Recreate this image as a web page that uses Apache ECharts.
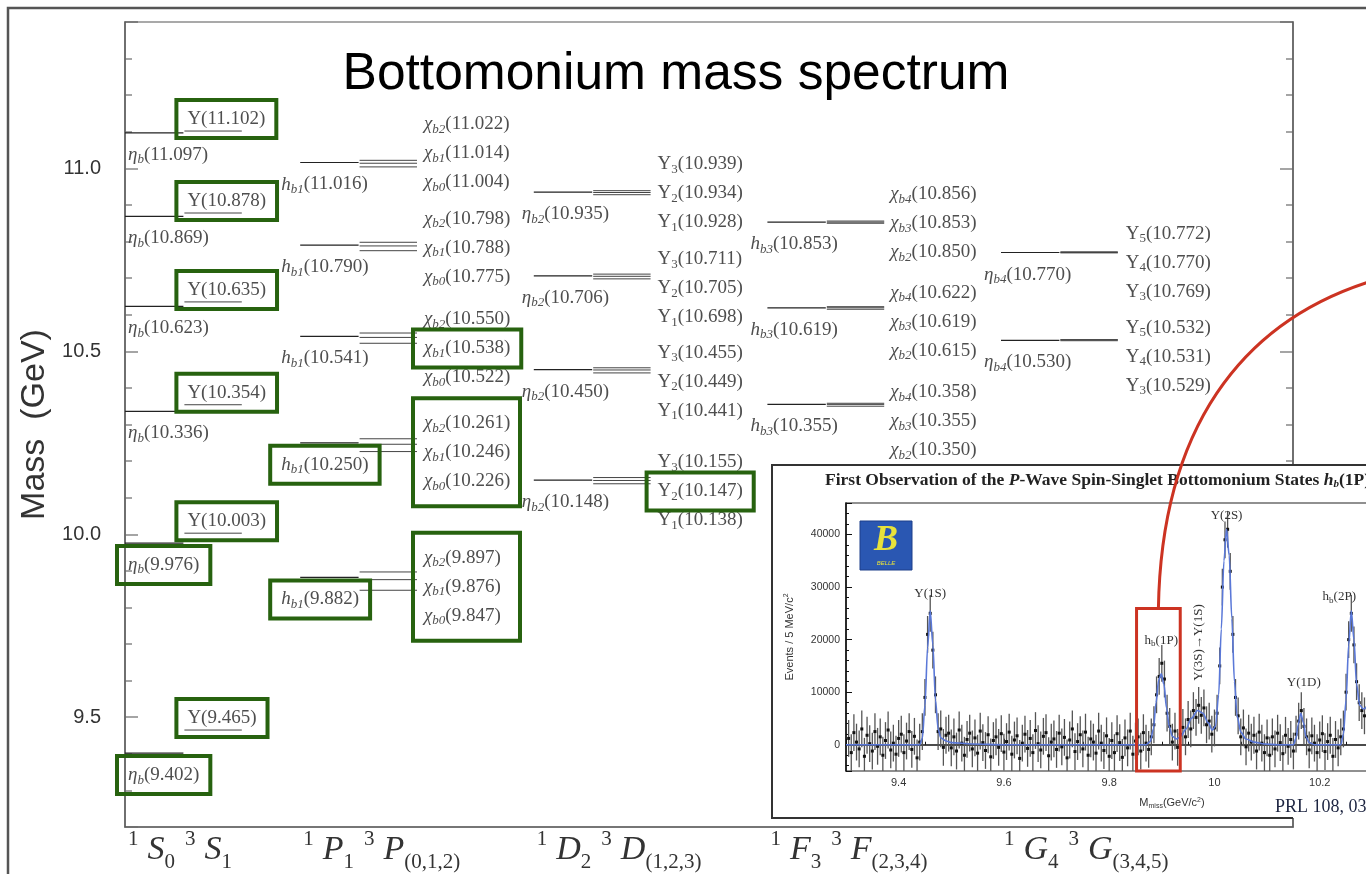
<!DOCTYPE html>
<html><head><meta charset="utf-8">
<script src="https://cdn.jsdelivr.net/npm/echarts@6/dist/echarts.min.js"></script>
<style>html,body{margin:0;padding:0;background:#fff}#c{width:1366px;height:874px}</style>
</head><body><div id="c"></div>
<script>
// ================= DATA =================
// Main spectrum: masses in GeV, radial excitations from top (highest) to bottom
const waveNames = ['S', 'P', 'D', 'F', 'G'];
const waveTickLabels = [
  ['1', 'S', '0', '3', 'S', '1'],
  ['1', 'P', '1', '3', 'P', '(0,1,2)'],
  ['1', 'D', '2', '3', 'D', '(1,2,3)'],
  ['1', 'F', '3', '3', 'F', '(2,3,4)'],
  ['1', 'G', '4', '3', 'G', '(3,4,5)']
];
const singletSymbol = [['η', 'b'], ['h', 'b1'], ['η', 'b2'], ['h', 'b3'], ['η', 'b4']];
const tripletSymbol = [
  [['Υ', '']],
  [['χ', 'b0'], ['χ', 'b1'], ['χ', 'b2']],
  [['Υ', '1'], ['Υ', '2'], ['Υ', '3']],
  [['χ', 'b2'], ['χ', 'b3'], ['χ', 'b4']],
  [['Υ', '3'], ['Υ', '4'], ['Υ', '5']]
];
const sSinglet = [11.097, 10.869, 10.623, 10.336, 9.976, 9.402];
const sTriplet = [11.102, 10.878, 10.635, 10.354, 10.003, 9.465];
const pSinglet = [11.016, 10.790, 10.541, 10.250, 9.882];
const pTriplet = [[11.004, 11.014, 11.022], [10.775, 10.788, 10.798], [10.522, 10.538, 10.550], [10.226, 10.246, 10.261], [9.847, 9.876, 9.897]];
const dSinglet = [10.935, 10.706, 10.450, 10.148];
const dTriplet = [[10.928, 10.934, 10.939], [10.698, 10.705, 10.711], [10.441, 10.449, 10.455], [10.138, 10.147, 10.155]];
const fSinglet = [10.853, 10.619, 10.355];
const fTriplet = [[10.850, 10.853, 10.856], [10.615, 10.619, 10.622], [10.350, 10.355, 10.358]];
const gSinglet = [10.770, 10.530];
const gTriplet = [[10.769, 10.770, 10.772], [10.529, 10.531, 10.532]];
// states highlighted with green boxes
const boxedSinglet = ['S:9.976', 'S:9.402', 'P:10.250', 'P:9.882'];
const boxedTriplet = ['S:11.102', 'S:10.878', 'S:10.635', 'S:10.354', 'S:10.003', 'S:9.465',
  'P:10.538', 'P:10.226', 'P:10.246', 'P:10.261', 'P:9.847', 'P:9.876', 'P:9.897', 'D:10.147'];
const massMin = 9.2, massMax = 11.4;

// Inset (Belle, missing-mass spectrum), 5 MeV bins starting at 9.305 GeV
const insetStart = 9.305, insetStep = 0.005;
const insetCounts = [
  // 9.305 - 9.400
  1200, -1500, 2300, 500, -800, 3000, -2200, 1800, 200, -1200, 2500, -300, 1500, -2000, 800, 2800, -1000, 300, -1800, 1200,
  // 9.405 - 9.500
  2000, -1500, 700, 2500, -900, 1600, -2500, 500, 2500, 9000, 21000, 25000, 18000, 9500, 2500, 3000, -500, 1800, 2200, -600,
  // 9.505 - 9.600
  1500, -1200, 2800, 300, -2000, 1000, 2200, -800, 1300, -1600, 2600, 400, -1100, 1900, -2300, 800, 1500, -500, 2100, -1400,
  // 9.605 - 9.700
  600, 2400, -1800, 900, 1700, -2600, 300, 2000, -700, 1200, -1500, 2700, 200, -1000, 1600, 2300, -2100, 500, 1100, -900,
  // 9.705 - 9.800
  2200, -400, 1400, -2500, 900, 3000, -1300, 600, 1900, -800, 2400, -2000, 1100, 500, -1600, 2600, 300, -1100, 1700, -2200,
  // 9.805 - 9.900
  800, -1500, 2100, 400, -2400, 1300, -600, 2600, -1800, 700, 1500, -1200, 2300, 300, -900, 1500, 3800, 9500, 13000, 15500,
  // 9.905 - 10.000
  12500, 6000, 3500, 500, 2600, -500, 2000, 3300, 1500, 4800, 3000, 6500, 5200, 7500, 5600, 7000, 3800, 4500, 2000, 3200,
  // 10.005 - 10.100
  6000, 15000, 30000, 39000, 41000, 33000, 21000, 9000, 5500, 1500, 3200, -400, 2200, 500, 1800, -1200, 2400, 300, -1500, 1300,
  // 10.105 - 10.200
  -2000, 1500, -800, 2200, 400, -1700, 1800, -300, 1000, -1200, 2000, 4500, 6500, 3500, 1500, -1000, 1700, 300, -1500, 900,
  // 10.205 - 10.290
  2100, -1300, 600, 1800, -2200, 1000, -600, 1500, 3000, 10000, 20000, 25000, 19000, 12000, 8000, 6500, 5500, 7000
];
const insetError = 3500;
const insetFit = [[9.300, 0], [9.440, 0], [9.445, 1200], [9.450, 7500], [9.455, 18500], [9.460, 25500], [9.465, 19000], [9.470, 8500],
  [9.475, 3000], [9.480, 1300], [9.490, 700], [9.500, 400], [9.540, 150], [9.600, 0], [9.870, 0], [9.878, 600], [9.884, 3000],
  [9.889, 8000], [9.894, 12300], [9.899, 13500], [9.904, 11500], [9.909, 7000], [9.914, 3500], [9.920, 1600], [9.928, 1100],
  [9.936, 1600], [9.946, 3000], [9.956, 5000], [9.968, 6500], [9.978, 6000], [9.988, 4200], [9.996, 2800], [10.002, 3500],
  [10.008, 9500], [10.013, 22000], [10.018, 35000], [10.023, 41000], [10.028, 36000], [10.033, 24000], [10.038, 12000],
  [10.043, 5500], [10.050, 2400], [10.060, 1100], [10.075, 500], [10.095, 150], [10.120, 0], [10.150, 0], [10.155, 1200],
  [10.159, 3800], [10.164, 6000], [10.169, 4200], [10.174, 1500], [10.180, 400], [10.190, 0], [10.240, 0], [10.245, 2000],
  [10.250, 8500], [10.255, 19000], [10.260, 25500], [10.265, 20000], [10.270, 11500], [10.276, 7500], [10.283, 6800],
  [10.295, 7500], [10.310, 9000]];
const insetPeakLabels = [
  { text: 'Υ(1S)', m: 9.460, v: 25500 },
  { text: 'h_b(1P)', m: 9.899, v: 15500 },
  { text: 'Υ(3S)→Υ(1S)', m: 9.970, v: 6500, vertical: true },
  { text: 'Υ(2S)', m: 10.023, v: 41000 },
  { text: 'Υ(1D)', m: 10.164, v: 6500 },
  { text: 'h_b(2P)', m: 10.260, v: 25500 }
];
const insetCuts = [9.8, 10.1];
const insetBox = [[9.852, -5000], [9.935, 25900]];
const insetXRange = [9.3, 10.4], insetYRange = [-5000, 46000];

// ================= LAYOUT / STYLE =================
const waveStart = [0, 3, 7, 11, 15];
const halfLen = 1;
const singletDx = [3, -19, -12, -17, -17];
const tripletDx = [4, 7, 7, 6, 8];
const stackNudge = [[], [-10, 2, 11, 8, 7], [1, 12, 12, 11], [1, 14, 17], [10, 17]];
const insetLabelOffset = [[0, -17], [0, -23], [0, -68], [0, -14], [3, -28], [-12, -14]];
const GREEN = '#27620f', RED = '#cc3322', LABEL = '#4e4e4e';
const SERIF = '"Liberation Serif","DejaVu Serif",serif';
const SANS = '"Liberation Sans","DejaVu Sans",sans-serif';

const singlets = [sSinglet, pSinglet, dSinglet, fSinglet, gSinglet];
const triplets = [sTriplet.map(m => [m]), pTriplet, dTriplet, fTriplet, gTriplet];
const items = [];
singlets.forEach((arr, w) => arr.forEach((m, n) => items.push({ w, n, s: m, t: triplets[w][n] })));
const isBoxed = (list, w, m) => list.includes(waveNames[w] + ':' + m.toFixed(3)) ||
  list.includes(waveNames[w] + ':' + String(Number(m.toFixed(3))));

const labelRich = {
  m: { fontFamily: SERIF, fontSize: 19, lineHeight: 22, fill: LABEL },
  mi: { fontFamily: SERIF, fontSize: 19, lineHeight: 22, fontStyle: 'italic', fill: LABEL },
  si: { fontFamily: SERIF, fontSize: 13, lineHeight: 13, fontStyle: 'italic', fill: LABEL, padding: [10, 0, 0, 0] },
  s: { fontFamily: SERIF, fontSize: 13, lineHeight: 13, fill: LABEL, padding: [10, 0, 0, 0] }
};
function stateText(sym, sub, mass) {
  let t = sym === 'Υ' ? '{m|' + sym + '}' : '{mi|' + sym + '}';
  if (sub) t += /^\d+$/.test(sub) ? '{s|' + sub + '}' : '{si|' + sub + '}';
  return t + '{m|(' + mass.toFixed(3) + ')}';
}
function labelEl(x, y, text, boxed) {
  const style = { text, rich: labelRich, fontFamily: SERIF, fontSize: 19, fill: LABEL, align: 'left', verticalAlign: 'middle' };
  if (boxed) { Object.assign(style, { padding: [8, 11, 8, 11], borderColor: GREEN, borderWidth: 4 }); x -= 11; }
  return { type: 'text', x, y, style, z2: boxed ? 10 : 5 };
}
function renderLevel(params, api) {
  const it = items[params.dataIndex];
  const w = it.w, x0 = waveStart[w], x1 = x0 + halfLen, x2 = x0 + 2 * halfLen;
  const ch = [];
  const a = api.coord([x0, it.s]), b = api.coord([x1, it.s]);
  ch.push({ type: 'line', shape: { x1: a[0], y1: a[1], x2: b[0], y2: b[1] }, style: { stroke: '#222', lineWidth: 1.2 }, z2: 1 });
  it.t.forEach(m => {
    const c = api.coord([x1, m]), d = api.coord([x2, m]);
    ch.push({ type: 'line', shape: { x1: c[0] + 1, y1: c[1], x2: d[0], y2: d[1] }, style: { stroke: '#444', lineWidth: 1 }, z2: 1 });
  });
  const ss = singletSymbol[w];
  ch.push(labelEl(a[0] + singletDx[w], a[1] + 22, stateText(ss[0], ss[1], it.s), isBoxed(boxedSinglet, w, it.s)));
  if (w === 0) {
    const m = it.t[0], c = api.coord([x1, m]);
    ch.push(labelEl(c[0] + tripletDx[0], c[1] - 12, stateText('Υ', '', m), isBoxed(boxedTriplet, 0, m)));
  } else {
    const lx = api.coord([x2, it.t[1]])[0] + tripletDx[w];
    const mid = api.coord([x1, it.t[1]])[1] + stackNudge[w][it.n];
    const allBoxed = it.t.every(m => isBoxed(boxedTriplet, w, m));
    for (let j = 2; j >= 0; j--) {
      const y = mid + (1 - j) * 29;
      const sym = tripletSymbol[w][j];
      ch.push(labelEl(lx, y, stateText(sym[0], sym[1], it.t[j]), !allBoxed && isBoxed(boxedTriplet, w, it.t[j])));
    }
    if (allBoxed) ch.push({ type: 'rect', shape: { x: lx - 11, y: mid - 54, width: 107, height: 108 }, style: { fill: null, stroke: GREEN, lineWidth: 4 }, z2: 10 });
  }
  return { type: 'group', children: ch };
}

const waveRich = {
  sup: { fontFamily: SERIF, fontSize: 21, lineHeight: 21, padding: [0, 9, 22, 0], fill: '#333' },
  L: { fontFamily: SERIF, fontSize: 34, lineHeight: 36, fontStyle: 'italic', fill: '#333' },
  sub: { fontFamily: SERIF, fontSize: 21, lineHeight: 21, padding: [24, 10, 0, 0], fill: '#333' }
};
function renderWave(params, api) {
  const i = params.dataIndex;
  const p = api.coord([waveStart[i], massMin]);
  const t = waveTickLabels[i];
  const text = '{sup|' + t[0] + '}{L|' + t[1] + '}{sub|' + t[2] + '}{sup|' + t[3] + '}{L|' + t[4] + '}{sub|' + t[5] + '}';
  return { type: 'text', x: p[0] + 3, y: p[1] + 23, style: { text, rich: waveRich, fontFamily: SERIF, fontSize: 34, fill: '#333', align: 'left', verticalAlign: 'middle' } };
}

function renderBin(params, api) {
  const m = api.value(0), v = api.value(1);
  const lo = api.coord([m, v - insetError]), hi = api.coord([m, v + insetError]), c = api.coord([m, v]);
  return { type: 'group', children: [
    { type: 'line', shape: { x1: lo[0], y1: lo[1], x2: hi[0], y2: hi[1] }, style: { stroke: '#555', lineWidth: 1.3 } },
    { type: 'rect', shape: { x: c[0] - 1.5, y: c[1] - 1.5, width: 3, height: 3 }, style: { fill: '#111' } }
  ] };
}
function renderBox(params, api) {
  const a = api.coord(insetBox[0]), b = api.coord(insetBox[1]);
  return { type: 'rect', shape: { x: a[0], y: b[1], width: b[0] - a[0], height: a[1] - b[1] }, style: { fill: null, stroke: RED, lineWidth: 3 } };
}
const peakRich = {
  n: { fontFamily: SERIF, fontSize: 13, fill: '#333', lineHeight: 15 },
  s: { fontFamily: SERIF, fontSize: 9, fill: '#333', lineHeight: 9, padding: [7, 0, 0, 0] }
};
function peakText(t) {
  const m = t.match(/^h_b(.*)$/);
  return m ? '{n|h}{s|b}{n|' + m[1] + '}' : '{n|' + t + '}';
}
function renderPeakLabel(params, api) {
  const i = params.dataIndex, pk = insetPeakLabels[i];
  const p = api.coord([pk.m, pk.v]);
  const off = insetLabelOffset[i];
  return { type: 'text', x: p[0] + off[0], y: p[1] + off[1], rotation: pk.vertical ? Math.PI / 2 : 0,
    style: { text: peakText(pk.text), rich: peakRich, fontFamily: SERIF, fontSize: 13, fill: '#333', align: 'center', verticalAlign: 'middle' } };
}

const chart = echarts.init(document.getElementById('c'), null, { renderer: 'canvas' });

const tickStyle = { color: '#888', width: 1.5 };
const option = {
  animation: false,
  backgroundColor: '#fff',
  grid: [
    { left: 125, right: 73, top: 22, bottom: 47, show: true, borderColor: '#555', borderWidth: 1.2, z: 2, outerBoundsMode: 'none', containLabel: false },
    { left: 846, width: 579, top: 503, height: 268, show: true, borderColor: '#222', borderWidth: 1.2, backgroundColor: '#fff', z: 6, outerBoundsMode: 'none', containLabel: false }
  ],
  xAxis: [
    { gridIndex: 0, type: 'value', min: 0, max: 20, axisLine: { show: true, lineStyle: { color: '#777', width: 1.5 } },
      axisTick: { show: false }, axisLabel: { show: false }, splitLine: { show: false } },
    { gridIndex: 1, type: 'value', min: insetXRange[0], max: insetXRange[1], z: 7,
      axisLine: { show: true, lineStyle: { color: '#111', width: 1.5 } },
      axisTick: { show: true, inside: true, length: 6, lineStyle: { color: '#111' } },
      minorTick: { show: true, splitNumber: 4, length: 3, lineStyle: { color: '#111' } },
      axisLabel: { fontSize: 11, color: '#333', fontFamily: SANS, margin: 6, showMinLabel: false, showMaxLabel: false,
        formatter: v => String(Number(v.toFixed(2))) },
      splitLine: { show: false } }
  ],
  yAxis: [
    { gridIndex: 0, type: 'value', position: 'left', min: massMin, max: massMax,
      name: 'Mass  (GeV)', nameLocation: 'middle', nameGap: 70,
      nameTextStyle: { fontSize: 34, color: '#333', fontFamily: SANS },
      axisLine: { show: true, lineStyle: { color: '#999', width: 2 } },
      axisTick: { show: true, inside: true, length: 13, lineStyle: tickStyle },
      minorTick: { show: true, splitNumber: 5, length: 7, lineStyle: tickStyle },
      axisLabel: { fontSize: 20, color: '#333', fontFamily: SANS, margin: 24, showMinLabel: false, showMaxLabel: false,
        formatter: v => (Math.abs(v * 2 - Math.round(v * 2)) < 1e-6 ? v.toFixed(1) : '') },
      splitLine: { show: false } },
    { gridIndex: 0, type: 'value', position: 'right', min: massMin, max: massMax,
      axisLine: { show: true, lineStyle: { color: '#999', width: 2 } },
      axisTick: { show: true, inside: true, length: 13, lineStyle: tickStyle },
      minorTick: { show: true, splitNumber: 5, length: 7, lineStyle: tickStyle },
      axisLabel: { show: false }, splitLine: { show: false } },
    { gridIndex: 1, type: 'value', min: insetYRange[0], max: insetYRange[1], splitNumber: 5, z: 7,
      name: 'Events / 5 MeV/c{sup|2}', nameLocation: 'middle', nameGap: 50,
      nameTextStyle: { fontSize: 11, color: '#333', fontFamily: SANS, rich: { sup: { fontSize: 7, color: '#333', fontFamily: SANS, padding: [0, 0, 6, 0] } } },
      axisLine: { show: true, lineStyle: { color: '#111', width: 1.5 } },
      axisTick: { show: true, inside: true, length: 6, lineStyle: { color: '#111' } },
      minorTick: { show: true, splitNumber: 5, length: 3, lineStyle: { color: '#111' } },
      axisLabel: { fontSize: 10.5, color: '#333', fontFamily: SANS, margin: 6, showMinLabel: false, showMaxLabel: false,
        formatter: v => String(Math.round(v)) },
      splitLine: { show: false } }
  ],
  series: [
    { type: 'custom', xAxisIndex: 0, yAxisIndex: 0, clip: false, z: 3, silent: true,
      renderItem: renderLevel, data: items.map(it => [waveStart[it.w], it.s]) },
    { type: 'custom', xAxisIndex: 0, yAxisIndex: 0, clip: false, z: 3, silent: true,
      renderItem: renderWave, data: waveStart.map(x => [x, massMin]) },
    { type: 'custom', xAxisIndex: 1, yAxisIndex: 2, clip: true, z: 8, silent: true,
      renderItem: renderBin, data: insetCounts.map((v, i) => [insetStart + i * insetStep, v]) },
    { type: 'line', xAxisIndex: 1, yAxisIndex: 2, z: 9, silent: true, data: insetFit, smooth: 0.3, smoothMonotone: 'x',
      showSymbol: false, lineStyle: { color: '#5a78d8', width: 1.6 },
      markLine: { symbol: 'none', silent: true, label: { show: false }, lineStyle: { color: '#e23a3a', type: 'dotted', width: 1.6 },
        data: insetCuts.map(x => ({ xAxis: x })) } },
    { type: 'custom', xAxisIndex: 1, yAxisIndex: 2, clip: false, z: 10, silent: true,
      renderItem: renderBox, data: [insetBox[1]] },
    { type: 'custom', xAxisIndex: 1, yAxisIndex: 2, clip: false, z: 9, silent: true,
      renderItem: renderPeakLabel, data: insetPeakLabels.map(p => [p.m, p.v]) }
  ],
  graphic: [
    { id: 'frame', type: 'rect', shape: { x: 8, y: 8, width: 1400, height: 900 }, style: { fill: null, stroke: '#555', lineWidth: 2.5 }, z: 1 },
    { id: 'title', type: 'text', x: 676, y: 75, style: { text: 'Bottomonium mass spectrum', fontFamily: SANS, fontSize: 51.5, fill: '#000', align: 'center', verticalAlign: 'middle' }, z: 10 },
    { id: 'insetBg', type: 'rect', shape: { x: 772, y: 465, width: 700, height: 353 }, style: { fill: '#fff' }, z: 5 },
    { id: 'insetBorder', type: 'polyline', shape: { points: [[1293, 818], [772, 818], [772, 465], [1400, 465]] }, style: { stroke: '#333', lineWidth: 2, fill: null }, z: 6 },
    { id: 'insetTitle', type: 'text', x: 825, y: 480, z: 9, style: {
      text: '{t|First Observation of the }{ti|P}{t|-Wave Spin-Singlet Bottomonium States }{ti|h}{ts|b}{t|(1P) and }{ti|h}{ts|b}{t|(2P)}',
      rich: { t: { fontFamily: SERIF, fontSize: 17.5, fontWeight: 'bold', fill: '#222', lineHeight: 20 },
        ti: { fontFamily: SERIF, fontSize: 17.5, fontWeight: 'bold', fontStyle: 'italic', fill: '#222', lineHeight: 20 },
        ts: { fontFamily: SERIF, fontSize: 11, fontWeight: 'bold', fontStyle: 'italic', fill: '#222', lineHeight: 11, padding: [9, 0, 0, 0] } },
      fontFamily: SERIF, fontSize: 17.5, fill: '#222', align: 'left', verticalAlign: 'middle' } },
    { id: 'logoBg', type: 'rect', shape: { x: 860, y: 521, width: 52, height: 49 }, style: { fill: '#2a57b2', stroke: '#1c3f8a', lineWidth: 1 }, z: 9 },
    { id: 'logoB', type: 'text', x: 886, y: 541, z: 10, style: { text: 'B', fontFamily: SERIF, fontSize: 36, fontStyle: 'italic', fontWeight: 'bold', fill: '#e8e23a', align: 'center', verticalAlign: 'middle' } },
    { id: 'logoT', type: 'text', x: 886, y: 563, z: 10, style: { text: 'BELLE', fontFamily: SANS, fontSize: 6, fontStyle: 'italic', fill: '#e8e23a', align: 'center', verticalAlign: 'middle' } },
    { id: 'insetXName', type: 'text', x: 1172, y: 803, z: 9, style: {
      text: '{n|M}{s|miss}{n|(GeV/c}{p|2}{n|)}',
      rich: { n: { fontFamily: SANS, fontSize: 11, fill: '#333', lineHeight: 13 },
        s: { fontFamily: SANS, fontSize: 7, fill: '#333', lineHeight: 7, padding: [6, 0, 0, 0] },
        p: { fontFamily: SANS, fontSize: 7, fill: '#333', lineHeight: 7, padding: [0, 0, 6, 0] } },
      fontFamily: SANS, fontSize: 11, fill: '#333', align: 'center', verticalAlign: 'middle' } },
    { id: 'prl', type: 'text', x: 1275, y: 807, z: 9, style: { text: 'PRL 108, 032001 (2012)', fontFamily: SERIF, fontSize: 18, fill: '#1c2440', align: 'left', verticalAlign: 'middle' } }
  ]
};
chart.setOption(option);
const boxTopPx = chart.convertToPixel({ xAxisIndex: 1, yAxisIndex: 2 }, [(insetBox[0][0] + insetBox[1][0]) / 2, insetBox[1][1]]);
option.graphic.push({ id: 'connector', type: 'bezierCurve', z: 20,
  shape: { x1: boxTopPx[0], y1: boxTopPx[1], cpx1: boxTopPx[0] + 3, cpy1: 430, cpx2: 1240, cpy2: 322, x2: 1372, y2: 281 },
  style: { stroke: RED, lineWidth: 3, fill: null } });
chart.setOption(option, true);
</script>
</body></html>
